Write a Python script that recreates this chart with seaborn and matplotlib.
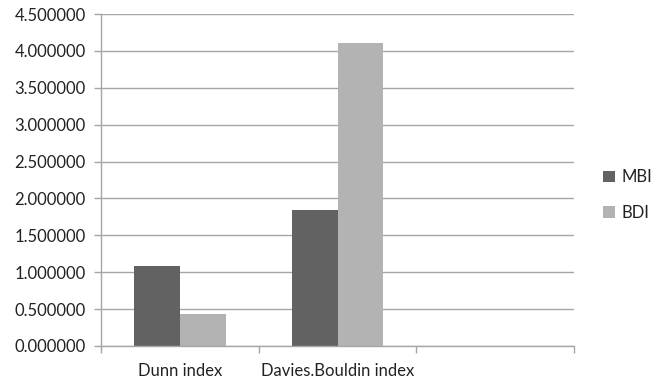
import matplotlib
matplotlib.use("Agg")
import matplotlib.pyplot as plt
import seaborn as sns
import pandas as pd
from matplotlib.ticker import FixedLocator, FormatStrFormatter

# Cluster validity indices for the two methods
categories = ["Dunn index", "Davies.Bouldin index", ""]
methods = ["MBI", "BDI"]
mbi_values = [1.08, 1.84]
bdi_values = [0.44, 4.11]
y_ticks = [0.0, 0.5, 1.0, 1.5, 2.0, 2.5, 3.0, 3.5, 4.0, 4.5]

df = pd.DataFrame({
    "index": categories[:2] * 2,
    "method": [methods[0]] * 2 + [methods[1]] * 2,
    "value": mbi_values + bdi_values,
})

sns.set_theme(style="white")
plt.rcParams["font.family"] = ["Lato", "DejaVu Sans"]

fig = plt.figure(figsize=(6.61, 3.84), dpi=100)
ax = fig.add_axes([0.1528, 0.099, 0.8684 - 0.1528, 0.9635 - 0.099])

sns.barplot(data=df, x="index", y="value", hue="method", order=categories,
            hue_order=methods, palette=["#626262", "#b3b3b3"], width=0.58,
            saturation=1, linewidth=0, ax=ax, legend=True)

grid_c = "#a6a6a6"
text_c = "#222222"
ax.set_ylim(0, 4.5)
ax.set_xlim(-0.5, 2.5)
ax.yaxis.set_major_locator(FixedLocator(y_ticks))
ax.yaxis.set_major_formatter(FormatStrFormatter("%.6f"))
ax.yaxis.grid(True, color=grid_c, linewidth=1.0)
ax.set_axisbelow(True)

# category separators as major ticks, labels on minor ticks at the centers
ax.xaxis.set_major_locator(FixedLocator([-0.5, 0.5, 1.5, 2.5]))
ax.set_xticklabels([])
ax.xaxis.set_minor_locator(FixedLocator([0, 1, 2]))
ax.set_xticklabels(categories, minor=True)
ax.tick_params(axis="x", which="major", length=5, width=1, color=grid_c, direction="out", bottom=True)
ax.tick_params(axis="x", which="minor", length=0, labelsize=12, pad=12, colors=text_c)
ax.tick_params(axis="y", length=5, width=1, color=grid_c, direction="out", left=True,
               labelsize=12, labelcolor=text_c, pad=6)

for s in ["top", "right"]:
    ax.spines[s].set_visible(False)
for s in ["left", "bottom"]:
    ax.spines[s].set_color(grid_c)
    ax.spines[s].set_linewidth(1.0)

ax.set_xlabel("")
ax.set_ylabel("")

leg = ax.legend(loc="center left", bbox_to_anchor=(1.03, 0.455), frameon=False,
                fontsize=12, handlelength=0.7, handleheight=0.7,
                handletextpad=0.4, labelspacing=1.15)
for t in leg.get_texts():
    t.set_color(text_c)

fig.savefig("out.png", dpi=100)
